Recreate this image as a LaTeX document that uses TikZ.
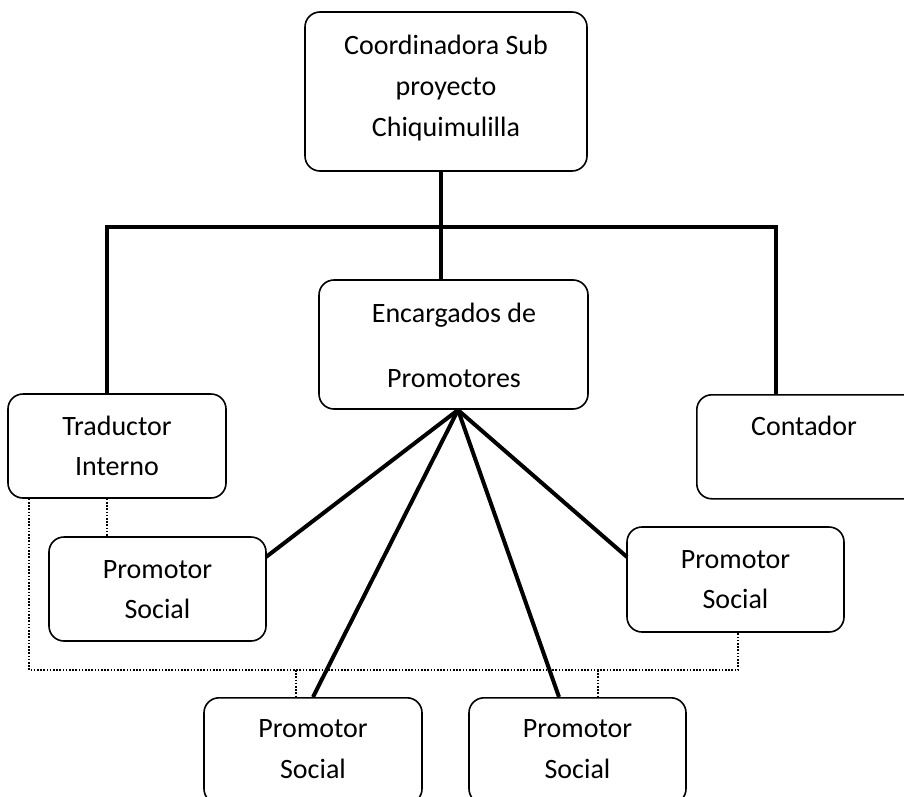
\documentclass[tikz,border=0pt]{standalone}
\usepackage{fontspec}
\setmainfont{Carlito}
\begin{document}
\begin{tikzpicture}[x=1pt,y=-1pt,
  box/.style={draw,line width=1.6pt,rounded corners=15pt,inner sep=0pt},
  lbl/.style={anchor=base,inner sep=0pt,font=\fontsize{28}{34}\selectfont},
  thickln/.style={line width=4.5pt,line cap=rect},
  spoke/.style={line width=4pt},
  dots/.style={line width=1.8pt,dash pattern=on 1.6pt off 1.6pt}]
\useasboundingbox (0,0) rectangle (904,797);
\clip (0,0) rectangle (904,797);
% boxes
\node[box,minimum width=282pt,minimum height=159pt] (top) at (446,91.5) {};
\node[box,minimum width=269pt,minimum height=129pt] (enc) at (453.5,344.5) {};
\node[box,minimum width=218pt,minimum height=104pt] (trad) at (117,446) {};
\node[box,minimum width=230pt,minimum height=104pt,anchor=north west] (cont) at (696,394) {};
\node[box,minimum width=217pt,minimum height=104pt] (p1) at (157.5,589) {};
\node[box,minimum width=217pt,minimum height=105pt] (p2) at (735.5,579.5) {};
\node[box,minimum width=218pt,minimum height=106pt,anchor=north] (p3) at (313,697) {};
\node[box,minimum width=217pt,minimum height=106pt,anchor=north] (p4) at (577.5,697) {};
% texts
\node[lbl] (t1) at (446,55) {Coordinadora Sub};
\node[lbl] (t2) at (446,95.5) {proyecto};
\node[lbl] (t3) at (446,136) {Chiquimulilla};
\node[lbl] (e1) at (454,322) {Encargados de};
\node[lbl] (e2) at (454,387) {Promotores};
\node[lbl] (tr1) at (117,435) {Traductor};
\node[lbl] (tr2) at (117,475) {Interno};
\node[lbl] (c1) at (804,435) {Contador};
\node[lbl] (a1) at (157.5,578) {Promotor};
\node[lbl] (a2) at (157.5,618) {Social};
\node[lbl] (b1) at (735.5,568) {Promotor};
\node[lbl] (b2) at (735.5,608) {Social};
\node[lbl] (c31) at (313,737) {Promotor};
\node[lbl] (c32) at (313,778) {Social};
\node[lbl] (d1) at (577.5,737) {Promotor};
\node[lbl] (d2) at (577.5,778) {Social};
% coordinates
\coordinate (hub) at (441,227);
\coordinate (hl) at (107,227);
\coordinate (hr) at (776,227);
\coordinate (apex) at (458,410);
\coordinate (p1in) at (266,557);
\coordinate (p2in) at (627,557);
\coordinate (p3in) at (313,697);
\coordinate (p4in) at (559,697);
\coordinate (dl) at (29,670);
\coordinate (dr) at (738,670);
% thick tree
\draw[thickln] (hl) -- (hr);
\draw[thickln,line cap=butt] (top.south -| hub) -- (enc.north -| hub);
\draw[thickln,line cap=butt] (hl) -- (trad.north -| hl);
\draw[thickln,line cap=butt] (hr) -- (cont.north -| hr);
% spokes
\draw[spoke] (apex) -- (p1in);
\draw[spoke] (apex) -- (p3in);
\draw[spoke] (apex) -- (p4in);
\draw[spoke] (apex) -- (p2in);
% dotted
\draw[dots] (trad.south -| dl) -- (dl) -- (dr) -- (p2.south -| dr);
\draw[dots] (trad.south -| hl) -- (p1.north -| hl);
\draw[dots] (296,670) -- (p3.north -| 296,0);
\draw[dots] (598,670) -- (p4.north -| 598,0);
\end{tikzpicture}
\end{document}
